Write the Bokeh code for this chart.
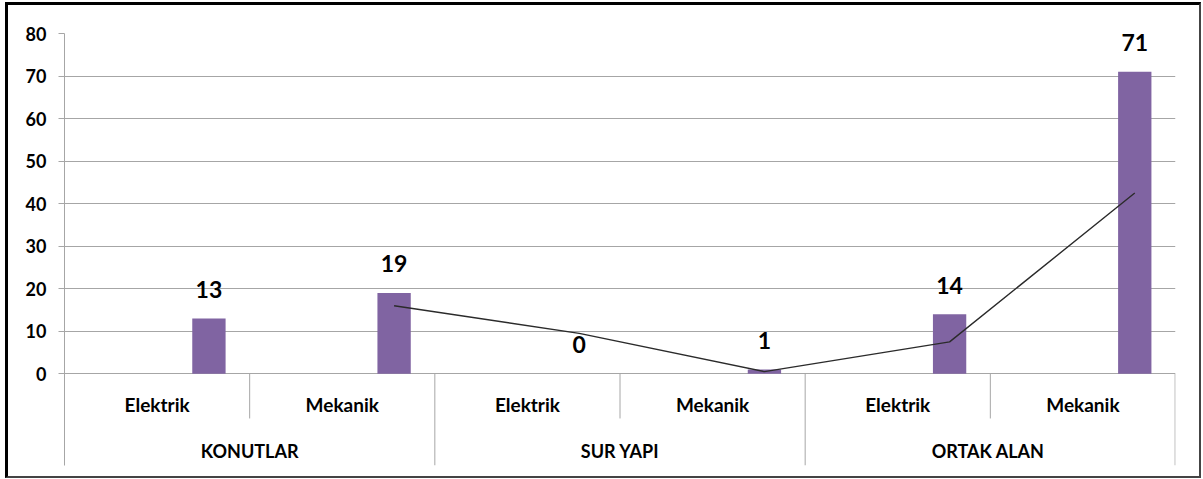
from bokeh.plotting import figure
from bokeh.models import Range1d, FixedTicker, ColumnDataSource
from bokeh.core.properties import value
from bokeh.embed import file_html
from bokeh.resources import INLINE

groups = ["KONUTLAR", "SUR YAPI", "ORTAK  ALAN"]
subs = ["Elektrik", "Mekanik", "Elektrik", "Mekanik", "Elektrik", "Mekanik"]
counts = [13, 19, 0, 1, 14, 71]
trend = [16, 9.5, 0.5, 7.5, 42.5]   # moving-average trend line (from 2nd category on)
y_ticks = [0, 10, 20, 30, 40, 50, 60, 70, 80]

FONT = "Lato"
GRID = "#a6a6a6"
BAR = "#8064a2"
BAR_OFF = 0.28
BAR_W = 0.18
Y_MIN = -21.56

p = figure(width=1191, height=471, output_backend="svg", toolbar_location=None,
           x_range=Range1d(0, len(subs)), y_range=Range1d(Y_MIN, 80),
           x_axis_location=None, min_border_left=56, min_border_right=29,
           min_border_top=28, min_border_bottom=16, outline_line_color=None,
           background_fill_color="white", border_fill_color="white")
p.styles = {"box-sizing": "content-box",
            "border-top": "3px solid #000", "border-left": "3px solid #000",
            "border-right": "2px solid #444", "border-bottom": "2px solid #444",
            "margin-left": "5px", "margin-top": "2px"}

p.xgrid.visible = False
p.ygrid.ticker = FixedTicker(ticks=y_ticks)
p.ygrid.grid_line_color = GRID
p.ygrid.grid_line_width = 1

ya = p.yaxis[0]
ya.ticker = FixedTicker(ticks=y_ticks)
ya.axis_line_color = GRID
ya.major_tick_line_color = GRID
ya.major_tick_out = 6
ya.major_tick_in = 0
ya.minor_tick_line_color = None
ya.major_label_standoff = 12
ya.major_label_text_font = FONT
ya.major_label_text_font_style = "bold"
ya.major_label_text_font_size = "18px"
ya.major_label_text_color = "black"

xs = [i + 0.5 + BAR_OFF for i in range(len(subs))]
src = ColumnDataSource(dict(x=xs, top=counts, lab=[str(c) for c in counts]))
p.vbar(x="x", top="top", bottom=0, width=BAR_W, source=src, fill_color=BAR, line_color=None)

p.line(xs[1:], trend, line_color="#2b2b2b", line_width=1.4)

p.text(x="x", y="top", text="lab", source=src, text_font=value(FONT), text_font_style="bold",
       text_font_size="23px", text_align="center", text_baseline="middle", y_offset=-29,
       text_color="black")

# category labels
cx = [i + 0.5 for i in range(len(subs))]
p.text(x=cx, y=[-7.2] * len(subs), text=subs, text_font=value(FONT), text_font_style="bold",
       text_font_size="19px", text_align="center", text_baseline="middle", text_color="black")
gx = [2 * i + 1 for i in range(len(groups))]
p.text(x=gx, y=[-18.05] * len(groups), text=groups, text_font=value(FONT), text_font_style="bold",
       text_font_size="18px", text_align="center", text_baseline="middle", text_color="black")

# separators
inner = [1, 3, 5]
p.segment(x0=inner, y0=[0] * 3, x1=inner, y1=[-10.5] * 3, line_color=GRID, line_width=1)
outer = [2, 4, 5.998]
p.segment(x0=outer, y0=[0] * 3, x1=outer, y1=[Y_MIN] * 3, line_color=GRID, line_width=1)

open("out.html", "w").write(file_html(p, INLINE))
